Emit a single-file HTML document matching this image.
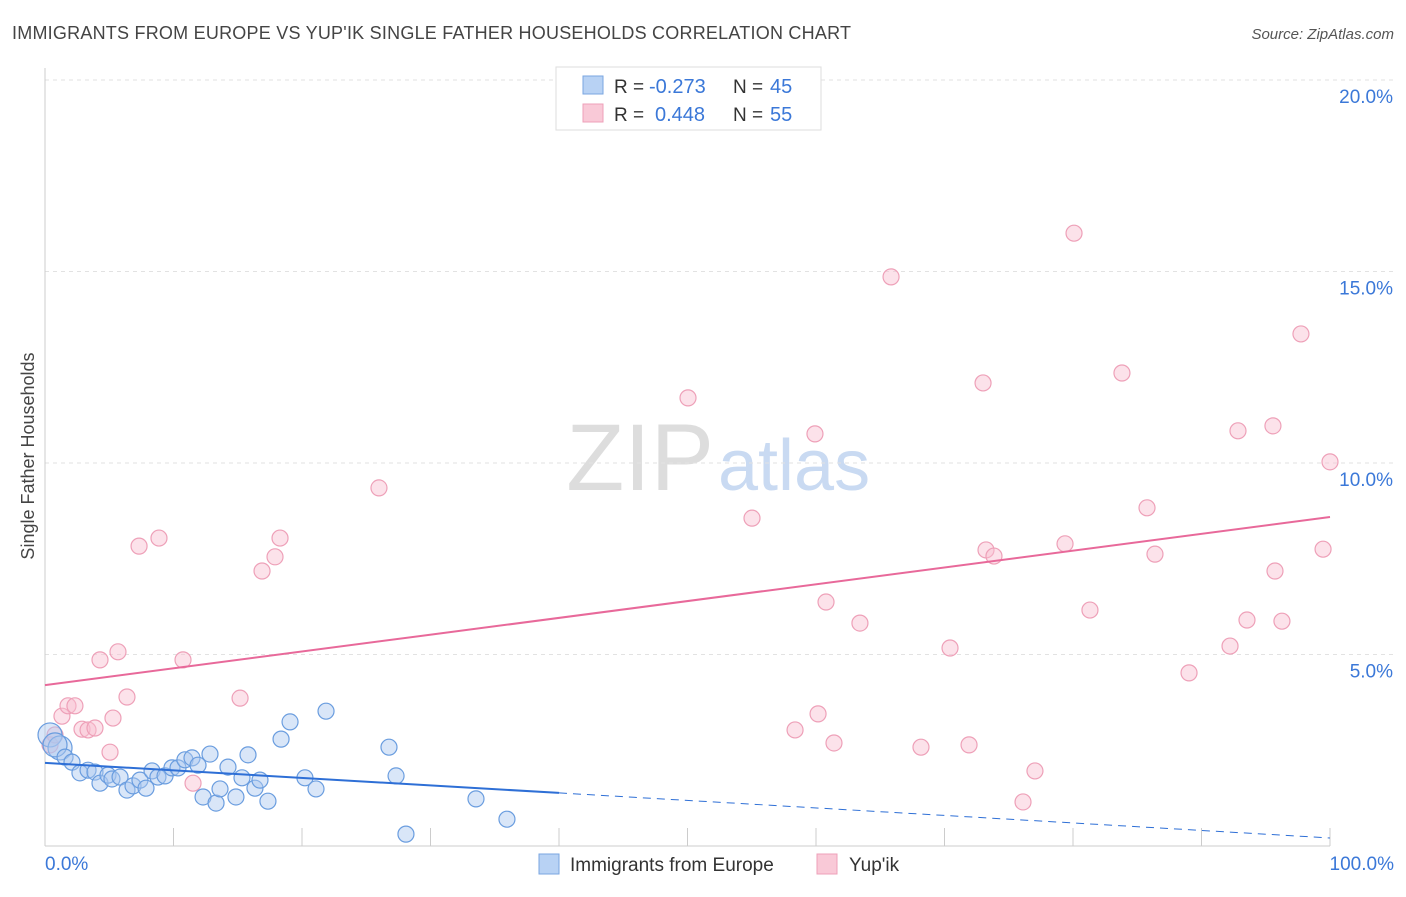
<!DOCTYPE html>
<html><head><meta charset="utf-8"><style>
body{margin:0;background:#fff;font-family:"Liberation Sans",sans-serif}
svg text{font-family:"Liberation Sans",sans-serif}
</style></head><body>
<svg id="c" width="1406" height="892">
<text x="12" y="39" font-size="18" fill="#444" textLength="839">IMMIGRANTS FROM EUROPE VS YUP'IK SINGLE FATHER HOUSEHOLDS CORRELATION CHART</text>
<text x="1394" y="39" font-size="15" fill="#555" font-style="italic" text-anchor="end">Source: ZipAtlas.com</text>
<text x="34" y="456" font-size="18" fill="#444" text-anchor="middle" transform="rotate(-90 34 456)">Single Father Households</text>
<text x="714" y="490" font-size="95" fill="#ddd" text-anchor="end" font-family="Liberation Serif">ZIP</text>
<text x="718" y="490" font-size="72" fill="#c9daf2">atlas</text>
<g id="grid"></g><g id="marks"></g>
<g>
<rect x="556" y="67" width="265" height="63" fill="#fff" stroke="#ddd"/>
<rect x="583" y="76" width="20" height="18" fill="#b8d2f4" stroke="#7aa6e0"/>
<rect x="583" y="104" width="20" height="18" fill="#f9c9d7" stroke="#eea0b8"/>
<text x="614" y="93" font-size="19" fill="#333">R =</text>
<text x="649" y="93" font-size="20" fill="#3b78d8">-0.273</text>
<text x="733" y="93" font-size="19" fill="#333">N =</text>
<text x="770" y="93" font-size="20" fill="#3b78d8">45</text>
<text x="614" y="121" font-size="19" fill="#333">R =</text>
<text x="655" y="121" font-size="20" fill="#3b78d8">0.448</text>
<text x="733" y="121" font-size="19" fill="#333">N =</text>
<text x="770" y="121" font-size="20" fill="#3b78d8">55</text>
</g>
<rect x="539" y="854" width="20" height="20" fill="#b8d2f4" stroke="#7aa6e0"/>
<text x="570" y="871" font-size="19" fill="#333">Immigrants from Europe</text>
<rect x="817" y="854" width="20" height="20" fill="#f9c9d7" stroke="#eea0b8"/>
<text x="849" y="871" font-size="19" fill="#333">Yup'ik</text>
</svg>
<script>
const yTicks=[5,10,15,20];
const yTickLabels=["5.0%","10.0%","15.0%","20.0%"];
const xTickLabels=["0.0%","100.0%"];
const blueX=[0.39,1.17,0.78,1.56,2.10,2.72,3.35,3.89,4.28,4.90,5.21,5.84,6.38,6.85,7.39,7.86,8.33,8.79,9.34,9.88,10.35,10.89,11.44,11.91,12.30,12.84,13.31,13.62,14.24,14.86,15.33,15.80,16.34,16.73,17.35,18.37,19.07,20.23,21.09,21.87,26.77,27.32,28.09,33.54,35.95];
const blueY=[2.90,2.56,2.64,2.32,2.19,1.91,1.98,1.93,1.64,1.85,1.75,1.80,1.46,1.57,1.72,1.51,1.96,1.80,1.83,2.04,2.04,2.25,2.30,2.11,1.28,2.40,1.12,1.49,2.06,1.28,1.78,2.38,1.51,1.72,1.17,2.79,3.24,1.78,1.49,3.52,2.58,1.83,0.31,1.23,0.70];
const pinkX=[0.39,0.78,1.32,1.79,2.33,2.88,3.35,3.89,4.28,5.06,5.29,5.68,6.38,7.32,8.87,10.74,11.52,15.18,16.89,17.90,18.29,25.99,50.04,55.02,58.37,59.92,60.16,60.78,61.40,63.42,65.84,68.17,70.43,71.91,73.00,73.23,73.85,76.11,77.04,79.38,80.08,81.32,83.81,85.76,86.38,89.03,92.22,92.84,93.54,95.56,95.72,96.26,97.74,99.46,100.0];
const pinkY=[2.64,2.90,3.39,3.66,3.66,3.05,3.03,3.08,4.86,2.45,3.34,5.07,3.89,7.83,8.04,4.86,1.64,3.86,7.18,7.55,8.04,9.35,11.70,8.56,3.03,10.76,3.45,6.37,2.69,5.82,14.86,2.58,5.17,2.64,12.09,7.73,7.57,1.15,1.96,7.89,16.00,6.16,12.35,8.83,7.62,4.52,5.22,10.84,5.90,10.97,7.18,5.87,13.37,7.75,10.03];
const blueTrend=[2.17,0.21];
const pinkTrend=[4.20,8.59];
const NS="http://www.w3.org/2000/svg";
const X=v=>45+v*12.85, Y=v=>846-v*38.3;
function mk(tag,at,parent){const e=document.createElementNS(NS,tag);for(const k in at)e.setAttribute(k,at[k]);document.getElementById(parent).appendChild(e);return e;}
yTicks.forEach((t,i)=>{
 const l=mk('line',{x1:45,x2:1394,y1:Y(t),y2:Y(t),stroke:'#e2e2e2','stroke-dasharray':'4 4'},'grid');
 
 
 const tx=mk('text',{x:1393,y:Y(t)+23,'font-size':19,fill:'#3b78d8','text-anchor':'end'},'grid');
 tx.textContent=yTickLabels[i];
 
 
});
const ax=mk('line',{x1:45,x2:45,y1:68,y2:846,stroke:'#ccc'},'grid');


const bx=mk('line',{x1:45,x2:1330,y1:846,y2:846,stroke:'#ccc'},'grid');


for(let i=0;i<=10;i++){const t=mk('line',{x1:X(i*10),x2:X(i*10),y1:828,y2:846,stroke:'#ccc'},'grid');
 
 }
[[0,'start',45],[100,'end',1394]].forEach((d,i)=>{const t=mk('text',{x:d[2],y:870,'font-size':19,fill:'#3b78d8','text-anchor':d[1]},'grid');t.textContent=xTickLabels[i];
 
 });
pinkX.forEach((x,i)=>{const c=mk('circle',{cx:X(x),cy:Y(pinkY[i]),r:8,fill:'rgba(248,190,208,0.45)',stroke:'#eea0b8','stroke-width':1.2},'marks');
 
 });
blueX.forEach((x,i)=>{const c=mk('circle',{cx:X(x),cy:Y(blueY[i]),r:i<3?12:8,fill:'rgba(170,200,240,0.45)',stroke:'#6a9ddf','stroke-width':1.2},'marks');
 
 });
const bAt=v=>blueTrend[0]+(blueTrend[1]-blueTrend[0])*v/100;
const l1=mk('line',{x1:X(0),y1:Y(bAt(0)),x2:X(40),y2:Y(bAt(40)),stroke:'#2e6fd6','stroke-width':2},'marks');


const l2=mk('line',{x1:X(40),y1:Y(bAt(40)),x2:X(100),y2:Y(bAt(100)),stroke:'#2e6fd6','stroke-width':1,'stroke-dasharray':'8 6'},'marks');


const l3=mk('line',{x1:X(0),y1:Y(pinkTrend[0]),x2:X(100),y2:Y(pinkTrend[1]),stroke:'#e8699a','stroke-width':2},'marks');


</script>
</body></html>
